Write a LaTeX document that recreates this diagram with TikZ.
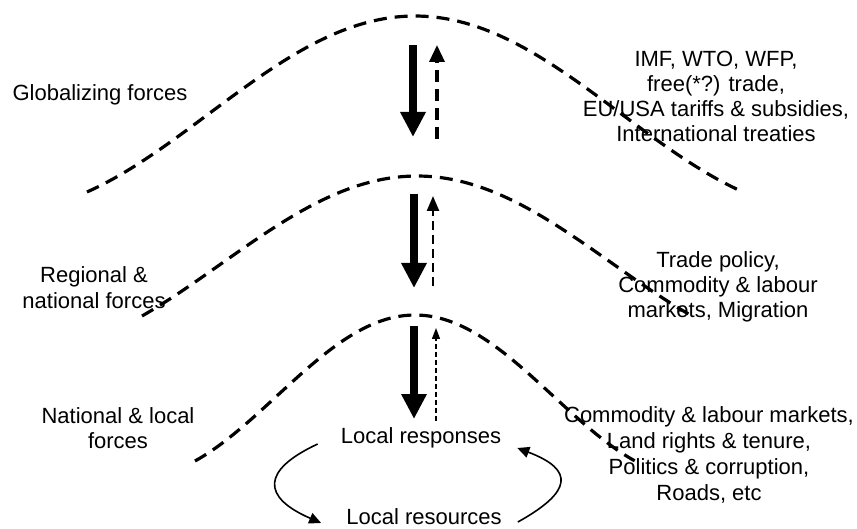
\documentclass[tikz,border=0pt]{standalone}
\usepackage{fontspec}
\setmainfont{Liberation Sans}
\usetikzlibrary{arrows.meta,calc}
\begin{document}
\begin{tikzpicture}[x=1pt,y=-1pt,
  lbl/.style={font=\fontsize{22}{25}\selectfont, inner sep=0pt, align=center},
  lblwide/.style={font=\fontsize{22}{26}\selectfont, inner sep=0pt, align=center},
  curve/.style={line width=3.2pt, dash pattern=on 13pt off 8pt},
  downarrow/.style={line width=7.5pt, -{Triangle[length=25pt,width=24pt]}},
  upA/.style={line width=3.4pt, dash pattern=on 12pt off 7pt, -{Triangle[length=17pt,width=15pt]}},
  upB/.style={line width=2.4pt, dash pattern=on 9pt off 5pt, -{Triangle[length=15pt,width=12pt]}},
  upC/.style={line width=1.3pt, dash pattern=on 5pt off 3pt, -{Triangle[length=11pt,width=8pt]}},
  cyc/.style={line width=1.6pt, -{Triangle[length=12pt,width=11pt]}}]
\useasboundingbox (0,0) rectangle (857,529);

% labels
\node[lbl, anchor=base] (glob) at (100,101) {Globalizing forces};
\node[lblwide, anchor=north] (reg) at (94,266) {Regional \&\\national forces};
\node[lbl, anchor=north] (nat) at (118,407) {National \& local\\forces};
\node[lbl, anchor=north] (rone) at (716,51) {IMF, WTO, WFP,\\free(*?) trade,\\EU/USA tariffs \& subsidies,\\International treaties};
\node[lbl, anchor=north] (rtwo) at (718,251) {Trade policy,\\Commodity \& labour\\markets, Migration};
\node[lblwide, anchor=north] (rthree) at (709,406) {Commodity \& labour markets,\\Land rights \& tenure,\\Politics \& corruption,\\Roads, etc};
\node[lbl, anchor=base] (resp) at (421,443) {Local responses};
\node[lbl, anchor=base] (res) at (424,524) {Local resources};

% level curves
\draw[curve] plot[domain=-1:1, samples=100] ({415+328*\x},{16+176*(1-cos(143.24*\x))/1.8011});
\draw[curve] plot[domain=-1:1, samples=100] ({417+275*\x},{176+140*(1-cos(126.05*\x))/1.5885});
\draw[curve] plot[domain=-1:1, samples=100] ({415+220*\x},{315+146*(1-cos(143.24*\x))/1.8011});

% vertical arrows
\coordinate (aTop) at (413,45);   \coordinate (aBot) at (413,137);
\coordinate (bTop) at (437,45);   \coordinate (bBot) at (437,139);
\coordinate (cTop) at (414,194);  \coordinate (cBot) at (414,288);
\coordinate (dTop) at (433,196);  \coordinate (dBot) at (433,286);
\coordinate (eTop) at (414,326);  \coordinate (eBot) at (414,419);
\coordinate (fTop) at (436,328);  \coordinate (fBot) at (436,421);
\draw[downarrow] (aTop) -- (aBot);
\draw[upA] (bBot) -- (bTop);
\draw[downarrow] (cTop) -- (cBot);
\draw[upB] (dBot) -- (dTop);
\draw[downarrow] (eTop) -- (eBot);
\draw[upC] (fBot) -- (fTop);

% local cycle
\draw[cyc] ($(resp.base west)+(-23,1)$) .. controls ($(resp.base west)+(-79,27)$) and ($(res.base west)+(-85,-27)$) .. ($(res.base west)+(-25,-1)$);
\draw[cyc] ($(res.base east)+(16,-2)$) .. controls ($(res.base east)+(70,-32)$) and ($(resp.base east)+(74,27)$) .. ($(resp.base east)+(16,5)$);
\end{tikzpicture}
\end{document}
